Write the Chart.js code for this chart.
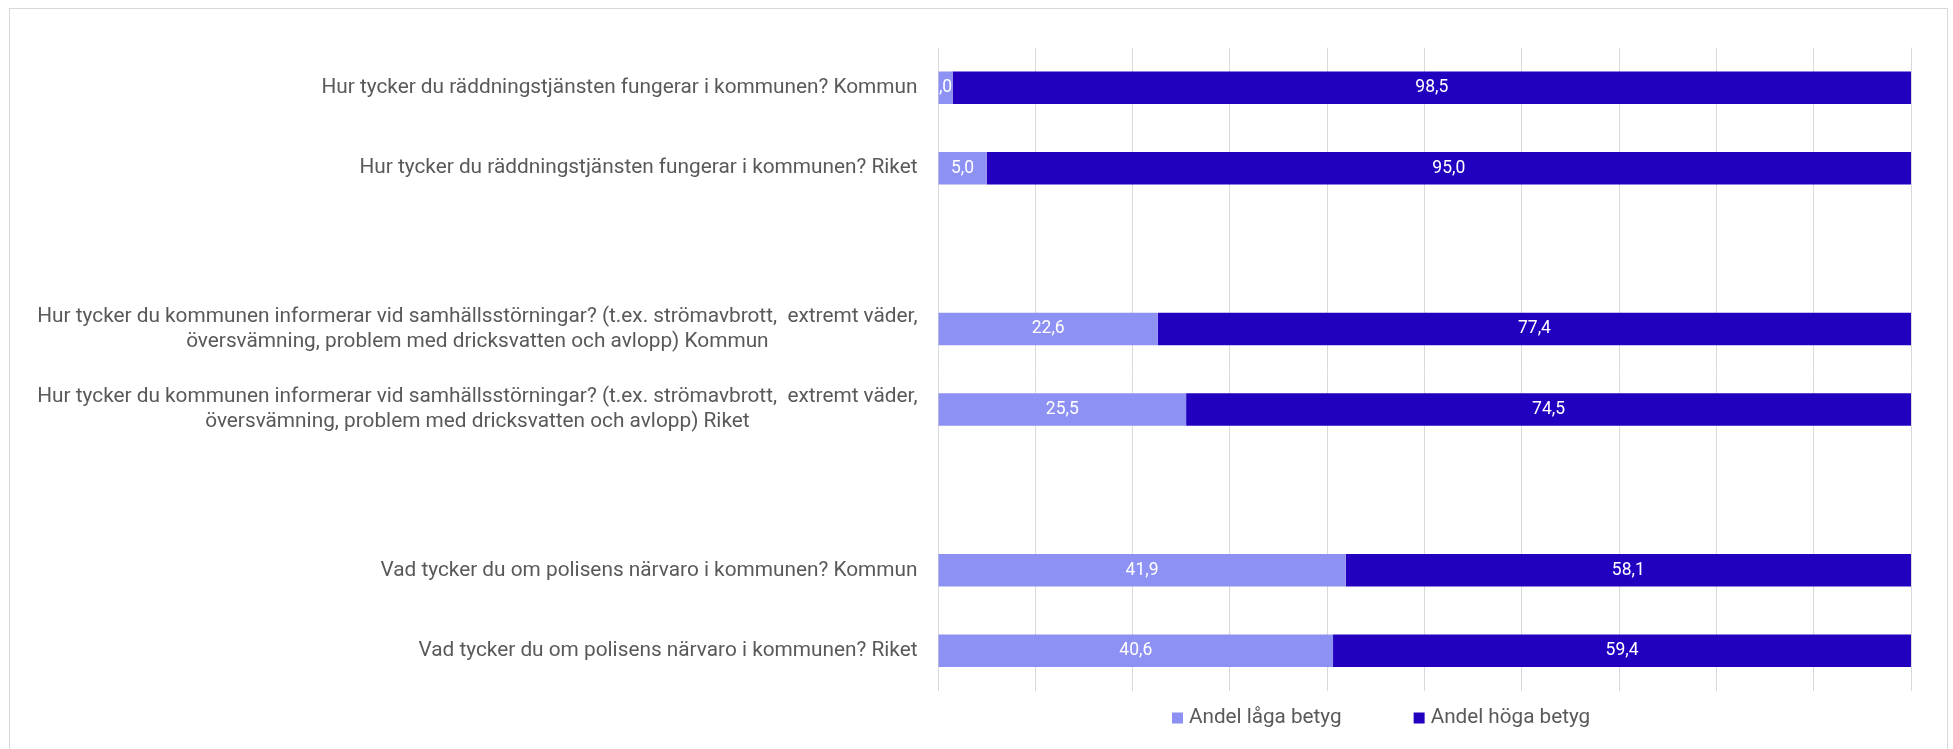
<!DOCTYPE html>
<html>
<head>
<meta charset="utf-8">
<script src="https://cdn.jsdelivr.net/npm/chart.js@4.4.1/dist/chart.umd.min.js"></script>
<style>
  html, body { margin: 0; padding: 0; background: #fff; overflow: hidden; }
  #frame { position: absolute; left: 9px; top: 8px; width: 1937px; height: 800px; border: 1px solid #d9d9d9; }
  #wrap { position: absolute; left: 0; top: 0; width: 1953px; height: 749px; }
</style>
</head>
<body>
<div id="frame"></div>
<div id="wrap"><canvas id="chart"></canvas></div>
<script>
// categories (blank rows are the gaps between question groups)
const categories = [
  ['Hur tycker du räddningstjänsten fungerar i kommunen? Kommun'],
  ['Hur tycker du räddningstjänsten fungerar i kommunen? Riket'],
  [''],
  ['Hur tycker du kommunen informerar vid samhällsstörningar? (t.ex. strömavbrott,  extremt väder,',
   'översvämning, problem med dricksvatten och avlopp) Kommun'],
  ['Hur tycker du kommunen informerar vid samhällsstörningar? (t.ex. strömavbrott,  extremt väder,',
   'översvämning, problem med dricksvatten och avlopp) Riket'],
  [''],
  ['Vad tycker du om polisens närvaro i kommunen? Kommun'],
  ['Vad tycker du om polisens närvaro i kommunen? Riket']
];
const seriesNames = ['Andel låga betyg', 'Andel höga betyg'];
const lowValues  = [1.5, 5.0, null, 22.6, 25.5, null, 41.9, 40.6];
const highValues = [98.5, 95.0, null, 77.4, 74.5, null, 58.1, 59.4];
const lowLabels  = [',0', '5,0', '', '22,6', '25,5', '', '41,9', '40,6'];
const highLabels = ['98,5', '95,0', '', '77,4', '74,5', '', '58,1', '59,4'];
const xMin = 0, xMax = 100, xStep = 10;

const colors = ['#8e91f4', '#2300c0'];
const textGray = '#595959';

// value labels in the middle of each segment
const barLabels = {
  id: 'barLabels',
  afterDatasetsDraw(chart) {
    const ctx = chart.ctx;
    const texts = [lowLabels, highLabels];
    ctx.save();
    ctx.font = '17.5px Roboto';
    ctx.fillStyle = '#ffffff';
    ctx.textAlign = 'center';
    ctx.textBaseline = 'middle';
    chart.data.datasets.forEach((ds, di) => {
      chart.getDatasetMeta(di).data.forEach((bar, i) => {
        if (ds.data[i] == null) return;
        const p = bar.getProps(['x', 'base', 'y'], true);
        ctx.fillText(texts[di][i], (p.x + p.base) / 2, p.y);
      });
    });
    ctx.restore();
  }
};

// category labels: block right-aligned to the axis, lines centred in the block
const catLabels = {
  id: 'catLabels',
  afterDraw(chart) {
    const ctx = chart.ctx;
    const yScale = chart.scales.y;
    const lh = 25;
    ctx.save();
    ctx.font = '20.8px Roboto';
    ctx.fillStyle = textGray;
    ctx.textAlign = 'center';
    ctx.textBaseline = 'middle';
    categories.forEach((lines, i) => {
      const y = yScale.getPixelForValue(i);
      const maxW = Math.max(...lines.map(l => ctx.measureText(l).width));
      const cx = chart.chartArea.left - 20.5 - maxW / 2;
      const y0 = y - (lines.length - 1) * lh / 2;
      lines.forEach((l, k) => ctx.fillText(l, cx, y0 + k * lh));
    });
    ctx.restore();
  }
};

// legend below the plot
const bottomLegend = {
  id: 'bottomLegend',
  afterDraw(chart) {
    const ctx = chart.ctx;
    const area = chart.chartArea;
    ctx.save();
    ctx.font = '20.7px Roboto';
    ctx.textBaseline = 'middle';
    ctx.textAlign = 'left';
    const y = area.bottom + 27;
    let x = area.left + 234;
    chart.data.datasets.forEach((ds) => {
      ctx.fillStyle = ds.backgroundColor;
      ctx.fillRect(x, y - 5.5, 11, 11);
      ctx.fillStyle = textGray;
      ctx.fillText(ds.label, x + 17, y);
      x += 17 + ctx.measureText(ds.label).width + 72;
    });
    ctx.restore();
  }
};

function draw() {
  Chart.defaults.font.family = 'Roboto';
  new Chart(document.getElementById('chart'), {
    type: 'bar',
    data: {
      labels: categories,
      datasets: [
        { label: seriesNames[0], data: lowValues, backgroundColor: colors[0] },
        { label: seriesNames[1], data: highValues, backgroundColor: colors[1] }
      ]
    },
    options: {
      indexAxis: 'y',
      responsive: true,
      maintainAspectRatio: false,
      animation: false,
      categoryPercentage: 1,
      barPercentage: 0.404,
      layout: { padding: { left: 0, top: 47.6, right: 42, bottom: 58 } },
      plugins: { legend: { display: false }, tooltip: { enabled: false } },
      scales: {
        x: {
          stacked: true,
          min: xMin, max: xMax,
          ticks: { display: false, stepSize: xStep },
          grid: { color: '#d9d9d9', drawTicks: false },
          border: { display: false },
          afterFit(scale) { scale.height = 0; }
        },
        y: {
          stacked: true,
          ticks: { display: false },
          grid: { display: false },
          border: { display: false },
          afterFit(scale) { scale.width = 938; }
        }
      }
    },
    plugins: [barLabels, catLabels, bottomLegend]
  });
}

document.fonts.load('20px Roboto').then(draw, draw);
</script>
</body>
</html>
